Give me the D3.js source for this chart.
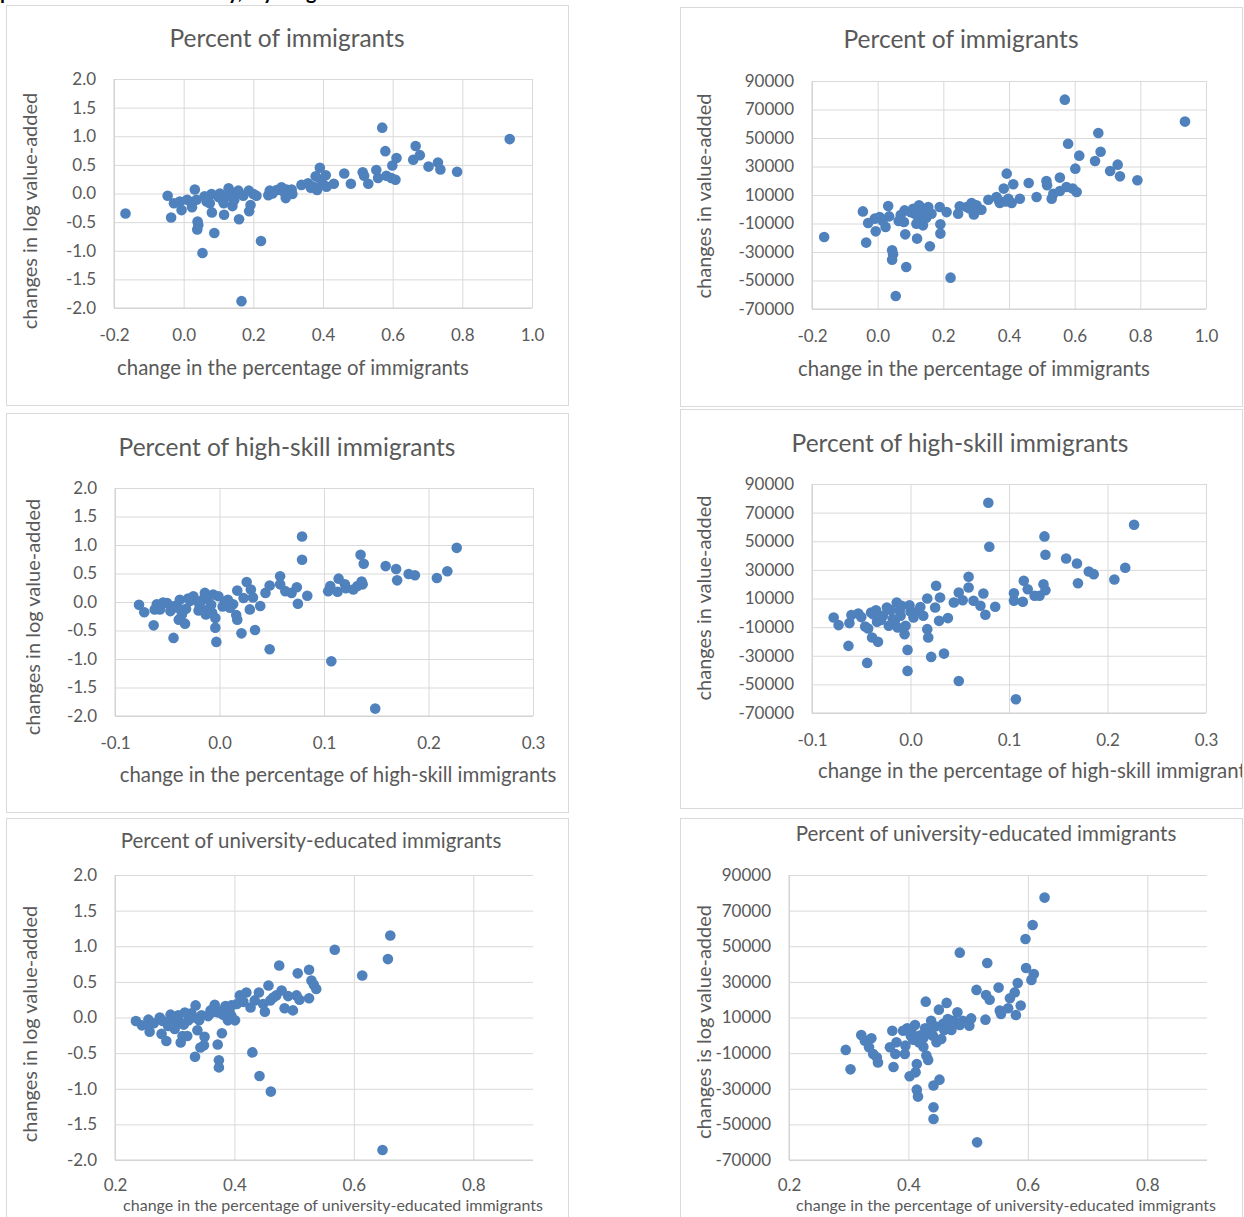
<!DOCTYPE html>
<html>
<head>
<meta charset="utf-8">
<script src="https://cdn.jsdelivr.net/npm/d3@7"></script>
<style>
  body { margin: 0; background: #fff; }
  svg { display: block; }
  text { font-family: Lato, "Open Sans", sans-serif; fill: #595959; }
</style>
</head>
<body>
<svg id="chart"></svg>
<script>
// ---- data ----
// [x, y] pairs for each panel

// change in the percentage of immigrants vs change in log value-added
var immigLogVA = [
  [-0.167,-0.35],[-0.046,-0.04],[-0.036,-0.42],[-0.028,-0.17],[-0.011,-0.14],[-0.006,-0.29],
  [0.010,-0.11],[0.024,-0.24],[0.032,0.07],[0.037,-0.11],[0.040,-0.49],[0.042,-0.55],
  [0.039,-0.63],[0.054,-1.04],[0.066,-0.14],[0.075,-0.17],[0.080,-0.01],[0.081,-0.33],
  [0.088,-0.69],[0.104,0.00],[0.115,-0.17],[0.116,-0.37],[0.123,-0.05],[0.129,0.09],
  [0.133,-0.03],[0.140,-0.22],[0.142,-0.08],[0.152,0.02],[0.157,0.05],[0.159,-0.45],
  [0.166,-1.88],[0.171,-0.04],[0.187,0.05],[0.188,-0.31],[0.192,-0.20],[0.200,-0.01],
  [0.209,-0.04],[0.222,-0.83],[0.243,-0.03],[0.247,0.05],[0.267,0.06],[0.281,0.11],
  [0.293,-0.08],[0.295,0.07],[0.310,0.07],[0.312,-0.01],[0.338,0.15],[0.357,0.18],
  [0.372,0.12],[0.379,0.30],[0.383,0.06],[0.391,0.45],[0.394,0.24],[0.408,0.32],
  [0.410,0.12],[0.431,0.17],[0.461,0.35],[0.480,0.17],[0.514,0.37],[0.518,0.31],
  [0.530,0.17],[0.553,0.41],[0.558,0.27],[0.570,1.15],[0.579,0.74],[0.582,0.31],
  [0.596,0.27],[0.599,0.49],[0.608,0.24],[0.611,0.62],[0.659,0.59],[0.666,0.83],
  [0.678,0.67],[0.703,0.47],[0.730,0.54],[0.737,0.42],[0.785,0.38],[0.936,0.95],
  [0.100,-0.06],[0.135,0.02],[0.110,-0.10],[0.145,-0.12],[0.060,-0.05],[0.020,-0.15],
  [0.255,0.00],[0.285,0.04],[0.365,0.10],[0.400,0.16]
];

// change in the percentage of immigrants vs change in value-added
var immigVA = [
  [-0.163,-19500],[-0.045,-1500],[-0.035,-23400],[-0.029,-9600],[-0.009,-6600],[-0.006,-15500],
  [0.006,-5400],[0.024,-12400],[0.032,2300],[0.035,-5000],[0.044,-28800],[0.047,-31600],
  [0.044,-35400],[0.055,-60900],[0.064,-8200],[0.080,-8900],[0.082,-800],[0.084,-17600],
  [0.087,-40500],[0.108,400],[0.113,-3100],[0.118,-10100],[0.120,-20600],[0.126,2800],
  [0.130,-5400],[0.138,-11300],[0.143,-800],[0.154,1600],[0.159,-26000],[0.164,-3100],
  [0.189,1600],[0.191,-10600],[0.191,-17100],[0.210,-2000],[0.222,-48000],[0.245,-3100],
  [0.250,2100],[0.271,1600],[0.286,4400],[0.293,-3600],[0.301,2800],[0.316,-300],
  [0.337,6700],[0.362,8600],[0.372,4400],[0.384,14500],[0.393,25000],[0.398,7400],
  [0.408,4400],[0.413,17500],[0.433,7400],[0.460,18400],[0.484,8600],[0.514,19800],
  [0.516,16800],[0.530,7400],[0.535,10900],[0.555,22200],[0.555,12800],[0.570,76900],
  [0.575,15600],[0.580,46000],[0.594,14500],[0.602,28500],[0.606,12100],[0.614,37600],
  [0.662,33900],[0.672,53500],[0.679,40400],[0.708,26800],[0.731,31300],[0.738,23100],
  [0.791,20300],[0.936,61500],
  [0.100,-2000],[0.135,-1000],[0.148,-6000],[0.125,-8000],[0.070,-4000],[0.015,-8000],
  [0.280,500],[0.300,-1000],[0.370,6000],[0.390,5500]
];

// change in the percentage of high-skill immigrants vs change in log value-added
var hiSkillLogVA = [
  [-0.077,-0.05],[-0.072,-0.18],[-0.063,-0.41],[-0.062,-0.13],[-0.060,-0.04],[-0.057,-0.13],
  [-0.054,-0.01],[-0.047,-0.16],[-0.044,-0.63],[-0.043,-0.07],[-0.039,-0.31],[-0.038,0.04],
  [-0.036,-0.22],[-0.033,-0.38],[-0.032,-0.12],[-0.025,0.10],[-0.019,-0.07],[-0.016,0.04],
  [-0.014,0.16],[-0.013,-0.22],[-0.011,-0.13],[-0.007,-0.19],[-0.006,0.13],[-0.004,-0.28],
  [-0.004,-0.45],[-0.003,-0.70],[-0.001,0.10],[0.003,-0.08],[0.008,0.04],[0.013,-0.04],
  [0.016,-0.23],[0.017,0.20],[0.017,-0.31],[0.021,-0.55],[0.023,0.07],[0.026,0.35],
  [0.029,-0.13],[0.030,0.22],[0.032,0.08],[0.034,-0.49],[0.039,-0.07],[0.044,0.16],
  [0.048,0.29],[0.048,-0.83],[0.058,0.45],[0.058,0.31],[0.063,0.19],[0.069,0.16],
  [0.074,0.26],[0.075,-0.03],[0.079,1.15],[0.079,0.74],[0.084,0.11],[0.104,0.19],
  [0.106,0.28],[0.107,-1.04],[0.113,0.18],[0.114,0.41],[0.120,0.31],[0.121,0.24],
  [0.128,0.22],[0.132,0.28],[0.135,0.83],[0.136,0.36],[0.137,0.31],[0.138,0.67],
  [0.149,-1.87],[0.159,0.63],[0.169,0.58],[0.170,0.38],[0.181,0.49],[0.187,0.47],
  [0.208,0.42],[0.218,0.54],[0.227,0.95],
  [-0.050,-0.02],[-0.040,-0.10],[-0.028,0.02],[-0.020,0.00],[-0.012,0.08],[-0.008,-0.05],
  [-0.020,-0.15],[0.005,0.00],[0.010,-0.10],[-0.030,0.06]
];

// change in the percentage of high-skill immigrants vs change in value-added
var hiSkillVA = [
  [-0.078,-3300],[-0.073,-8600],[-0.063,-23100],[-0.062,-7200],[-0.060,-1600],[-0.053,-500],
  [-0.046,-9600],[-0.044,-35000],[-0.043,-11000],[-0.040,200],[-0.039,-17300],[-0.035,1800],
  [-0.034,-6300],[-0.033,-20300],[-0.024,3700],[-0.018,-4400],[-0.014,7200],[-0.013,-10300],
  [-0.011,1400],[-0.009,4900],[-0.006,-14900],[-0.005,-9100],[-0.003,-25900],[-0.003,-40600],
  [-0.001,5300],[0.003,-3300],[0.008,1400],[0.013,-2100],[0.017,10000],[0.018,-17300],
  [0.017,-11400],[0.021,-30800],[0.025,3700],[0.026,18900],[0.029,-5600],[0.030,10700],
  [0.034,-28500],[0.038,-3700],[0.044,7200],[0.049,14200],[0.049,-47600],[0.053,8800],
  [0.059,25200],[0.059,17700],[0.064,8400],[0.071,4900],[0.074,13500],[0.076,-1400],
  [0.079,76900],[0.080,46200],[0.086,4200],[0.105,13700],[0.105,8400],[0.107,-60400],
  [0.114,7700],[0.115,22400],[0.119,16500],[0.126,11900],[0.131,11900],[0.135,20000],
  [0.136,53400],[0.137,40600],[0.137,15800],[0.158,38000],[0.169,34500],[0.170,20700],
  [0.181,28900],[0.186,27000],[0.207,23300],[0.218,31500],[0.227,61500],
  [-0.050,-3000],[-0.038,-1000],[-0.028,-2000],[-0.020,2000],[-0.016,-6000],[-0.010,-2000],
  [-0.022,-9000],[0.000,1000],[0.010,4000],[-0.030,-5000]
];

// change in the percentage of university-educated immigrants vs change in log value-added
var univLogVA = [
  [0.235,-0.05],[0.245,-0.11],[0.256,-0.03],[0.258,-0.20],[0.256,-0.11],[0.275,0.00],
  [0.278,-0.23],[0.286,-0.33],[0.289,-0.12],[0.293,0.04],[0.295,-0.07],[0.300,-0.16],
  [0.306,0.03],[0.309,-0.07],[0.310,-0.35],[0.313,-0.26],[0.317,0.07],[0.321,-0.26],
  [0.323,-0.04],[0.328,0.06],[0.334,-0.55],[0.335,0.17],[0.338,-0.18],[0.341,-0.04],
  [0.343,-0.42],[0.349,-0.39],[0.350,-0.27],[0.356,0.02],[0.362,0.07],[0.367,0.18],
  [0.372,-0.38],[0.373,0.07],[0.374,-0.60],[0.374,-0.70],[0.379,-0.22],[0.381,0.04],
  [0.385,0.16],[0.389,-0.04],[0.392,0.07],[0.395,0.17],[0.401,-0.04],[0.404,0.19],
  [0.409,0.31],[0.420,0.35],[0.427,0.14],[0.430,-0.49],[0.434,0.24],[0.441,0.35],
  [0.442,-0.82],[0.448,0.19],[0.451,0.08],[0.457,0.45],[0.460,0.24],[0.461,-1.04],
  [0.470,0.31],[0.475,0.73],[0.479,0.38],[0.484,0.13],[0.498,0.10],[0.504,0.31],
  [0.506,0.62],[0.509,0.25],[0.525,0.27],[0.525,0.67],[0.529,0.52],[0.533,0.46],
  [0.537,0.40],[0.568,0.95],[0.614,0.59],[0.648,-1.86],[0.657,0.82],[0.661,1.15],
  [0.265,-0.08],[0.280,-0.05],[0.300,0.00],[0.315,-0.10],[0.330,0.00],[0.345,0.03],
  [0.360,0.10],[0.380,0.10],[0.395,0.02],[0.415,0.22],[0.465,0.28],[0.490,0.30]
];

// change in the percentage of university-educated immigrants vs change in value-added
var univVA = [
  [0.295,-8200],[0.303,-19100],[0.321,200],[0.327,-3000],[0.334,-6700],[0.338,-1700],
  [0.341,-10500],[0.347,-12300],[0.349,-15200],[0.369,-6700],[0.373,2600],[0.375,-17800],
  [0.378,-10500],[0.380,-3900],[0.391,2600],[0.394,-10500],[0.395,-5800],[0.398,3900],
  [0.402,-23000],[0.404,-200],[0.411,5800],[0.412,-20800],[0.414,-16100],[0.414,-30500],
  [0.416,-34400],[0.419,-1100],[0.425,-6400],[0.429,18900],[0.430,-11400],[0.433,-13800],
  [0.433,2600],[0.438,8200],[0.441,-200],[0.442,-28200],[0.442,-40400],[0.442,-47000],
  [0.447,-3900],[0.451,14400],[0.452,-24900],[0.455,-2100],[0.458,6400],[0.464,18200],
  [0.466,9200],[0.472,3000],[0.476,8200],[0.482,12900],[0.486,5800],[0.486,46400],
  [0.491,8200],[0.502,5400],[0.505,9500],[0.514,25500],[0.515,-60100],[0.529,8800],
  [0.530,22600],[0.532,40600],[0.536,20000],[0.551,26800],[0.553,13900],[0.555,12000],
  [0.567,15200],[0.570,20800],[0.578,24100],[0.580,11400],[0.583,29400],[0.588,16700],
  [0.596,54100],[0.597,37800],[0.606,31100],[0.610,34400],[0.608,61900],[0.628,77300],
  [0.405,2000],[0.420,0],[0.428,4000],[0.436,1000],[0.445,5000],[0.460,3000],
  [0.470,7000],[0.418,-4000],[0.408,-2500],[0.425,-1500]
];

// tick values
var xTicksImmig = [-0.2, 0.0, 0.2, 0.4, 0.6, 0.8, 1.0];
var xTicksHiSkill = [-0.1, 0.0, 0.1, 0.2, 0.3];
var xTicksUniv = [0.2, 0.4, 0.6, 0.8];
var yTicksLog = [2.0, 1.5, 1.0, 0.5, 0.0, -0.5, -1.0, -1.5, -2.0];
var yTicksVA = [90000, 70000, 50000, 30000, 10000, -10000, -30000, -50000, -70000];

// ---- layout ----
var W = 1244, H = 1217;
var svg = d3.select("#chart").attr("width", W).attr("height", H);

var fmt1 = function(d) { return d3.format(".1f")(d).replace("\u2212", "-"); };
var fmtInt = function(d) { return d3.format("d")(d).replace("\u2212", "-"); };

var panels = [
  { data: immigLogVA, box: [6, 5, 562, 400], plot: [114, 532, 79, 308], xPad: 21,
    xDom: [-0.2, 1.0], xTicks: xTicksImmig, xFmt: fmt1, yDom: [-2, 2], yTicks: yTicksLog, yFmt: fmt1,
    title: "Percent of immigrants", titleX: 287, titleY: 47, titleSize: 24.5,
    xLabel: "change in the percentage of immigrants", xLabelX: 293, xLabelY: 375, xLabelSize: 20.4, xAnchor: "middle",
    yLabel: "changes in log value-added", yLabelX: 30, yLabelY: 211, yLabelSize: 20 },
  { data: immigVA, box: [680, 7, 562, 399], plot: [812, 1206, 81, 309], xPad: 21,
    xDom: [-0.2, 1.0], xTicks: xTicksImmig, xFmt: fmt1, yDom: [-70000, 90000], yTicks: yTicksVA, yFmt: fmtInt,
    title: "Percent of immigrants", titleX: 961, titleY: 48, titleSize: 24.5,
    xLabel: "change in the percentage of immigrants", xLabelX: 974, xLabelY: 376, xLabelSize: 20.4, xAnchor: "middle",
    yLabel: "changes in value-added", yLabelX: 704, yLabelY: 196, yLabelSize: 20 },
  { data: hiSkillLogVA, box: [6, 413, 562, 399], plot: [115, 533, 488, 716], xPad: 21,
    xDom: [-0.1, 0.3], xTicks: xTicksHiSkill, xFmt: fmt1, yDom: [-2, 2], yTicks: yTicksLog, yFmt: fmt1,
    title: "Percent of high-skill immigrants", titleX: 287, titleY: 456, titleSize: 24.5,
    xLabel: "change in the percentage of high-skill immigrants", xLabelX: 338, xLabelY: 782, xLabelSize: 20.4, xAnchor: "middle",
    yLabel: "changes in log value-added", yLabelX: 33, yLabelY: 617, yLabelSize: 20 },
  { data: hiSkillVA, box: [680, 409, 562, 399], plot: [812, 1206, 484, 713], xPad: 21,
    xDom: [-0.1, 0.3], xTicks: xTicksHiSkill, xFmt: fmt1, yDom: [-70000, 90000], yTicks: yTicksVA, yFmt: fmtInt,
    title: "Percent of high-skill immigrants", titleX: 960, titleY: 452, titleSize: 24.5,
    xLabel: "change in the percentage of high-skill immigrants", xLabelX: 818, xLabelY: 778, xLabelSize: 20.4, xAnchor: "start",
    yLabel: "changes in value-added", yLabelX: 704, yLabelY: 598, yLabelSize: 20 },
  { data: univLogVA, box: [6, 818, 562, 410], plot: [115, 533, 875, 1160], xPad: 19,
    xDom: [0.2, 0.9], xTicks: xTicksUniv, xFmt: fmt1, yDom: [-2, 2], yTicks: yTicksLog, yFmt: fmt1,
    title: "Percent of university-educated immigrants", titleX: 311, titleY: 848, titleSize: 20.5,
    xLabel: "change in the percentage  of university-educated immigrants", xLabelX: 333, xLabelY: 1211, xLabelSize: 16, xAnchor: "middle",
    yLabel: "changes in log value-added", yLabelX: 30, yLabelY: 1024, yLabelSize: 20 },
  { data: univVA, box: [680, 818, 562, 410], plot: [789, 1207, 875, 1160], xPad: 19,
    xDom: [0.2, 0.9], xTicks: xTicksUniv, xFmt: fmt1, yDom: [-70000, 90000], yTicks: yTicksVA, yFmt: fmtInt,
    title: "Percent of university-educated immigrants", titleX: 986, titleY: 841, titleSize: 20.5,
    xLabel: "change in the percentage  of university-educated immigrants", xLabelX: 1006, xLabelY: 1211, xLabelSize: 16, xAnchor: "middle",
    yLabel: "changes is log value-added", yLabelX: 704, yLabelY: 1022, yLabelSize: 20 }
];

// clipped line of body text above the charts (only descenders visible)
var topText = svg.append("text")
    .attr("y", -1)
    .style("font-size", "20px")
    .style("font-weight", "bold")
    .style("fill", "#000");
[["p", 0], ["y,", 228], ["y", 263], ["g", 306]].forEach(function(p) {
    topText.append("tspan").attr("x", p[1]).text(p[0]);
});

panels.forEach(function(p, i) {
    var g = svg.append("g");

    var clipId = "clip" + i;
    svg.append("clipPath").attr("id", clipId)
        .append("rect")
        .attr("x", p.box[0]).attr("y", p.box[1])
        .attr("width", p.box[2]).attr("height", p.box[3]);

    // panel frame
    g.append("rect")
        .attr("x", p.box[0] + 0.5).attr("y", p.box[1] + 0.5)
        .attr("width", p.box[2]).attr("height", p.box[3])
        .attr("fill", "#fff")
        .attr("stroke", "#d9d9d9")
        .attr("stroke-width", 1);

    var x = d3.scaleLinear().domain(p.xDom).range([p.plot[0], p.plot[1]]);
    var y = d3.scaleLinear().domain(p.yDom).range([p.plot[3], p.plot[2]]);
    var pw = p.plot[1] - p.plot[0];
    var ph = p.plot[3] - p.plot[2];

    // y gridlines + tick labels
    var yAxis = g.append("g")
        .attr("transform", "translate(" + p.plot[0] + ",0)")
        .call(d3.axisLeft(y).tickValues(p.yTicks).tickFormat(p.yFmt).tickSize(-pw).tickPadding(18));
    yAxis.select(".domain").remove();
    yAxis.selectAll("line").attr("stroke", "#d9d9d9");
    yAxis.selectAll("text").style("font-size", "17px").attr("fill", "#595959");

    // x gridlines + tick labels
    var xAxis = g.append("g")
        .attr("transform", "translate(0," + p.plot[3] + ")")
        .call(d3.axisBottom(x).tickValues(p.xTicks).tickFormat(p.xFmt).tickSize(-ph).tickPadding(p.xPad));
    xAxis.select(".domain").remove();
    xAxis.selectAll("line").attr("stroke", "#d9d9d9");
    xAxis.selectAll("text").style("font-size", "17px").attr("fill", "#595959");

    // axis lines
    g.append("line")
        .attr("x1", p.plot[0]).attr("x2", p.plot[1])
        .attr("y1", p.plot[3]).attr("y2", p.plot[3])
        .attr("stroke", "#d0d0d0");
    g.append("line")
        .attr("x1", p.plot[0]).attr("x2", p.plot[0])
        .attr("y1", p.plot[2]).attr("y2", p.plot[3])
        .attr("stroke", "#d0d0d0");

    // points
    g.append("g")
        .selectAll("circle")
        .data(p.data)
        .enter().append("circle")
        .attr("cx", function(d) { return x(d[0]); })
        .attr("cy", function(d) { return y(d[1]); })
        .attr("r", 5.3)
        .attr("fill", "#4f81bd");

    // title
    g.append("text")
        .attr("x", p.titleX).attr("y", p.titleY)
        .attr("text-anchor", "middle")
        .style("font-size", p.titleSize + "px")
        .text(p.title);

    // x axis title
    g.append("text")
        .attr("clip-path", "url(#" + clipId + ")")
        .attr("x", p.xLabelX).attr("y", p.xLabelY)
        .attr("text-anchor", p.xAnchor)
        .style("font-size", p.xLabelSize + "px")
        .text(p.xLabel);

    // y axis title
    g.append("text")
        .attr("transform", "translate(" + p.yLabelX + "," + p.yLabelY + ") rotate(-90)")
        .attr("text-anchor", "middle")
        .attr("dy", "0.35em")
        .style("font-size", p.yLabelSize + "px")
        .text(p.yLabel);
});
</script>
</body>
</html>
